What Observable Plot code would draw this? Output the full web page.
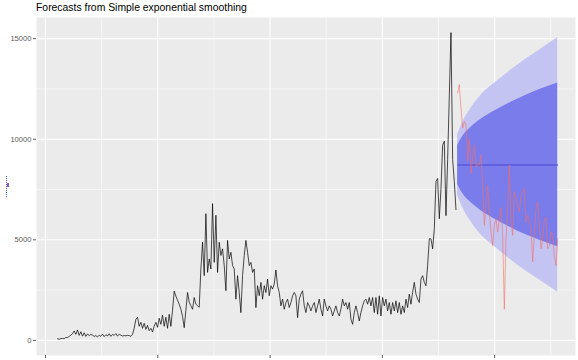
<!DOCTYPE html>
<html>
<head>
<meta charset="utf-8">
<script src="https://cdn.jsdelivr.net/npm/d3@7"></script>
<script src="https://cdn.jsdelivr.net/npm/@observablehq/plot@0.6"></script>
<style>
  html, body { margin: 0; padding: 0; background: #ffffff; overflow: hidden; }
  #wrap { position: relative; width: 578px; height: 360px; font-family: "Liberation Sans", Arial, sans-serif; }
  #title { position: absolute; left: 36px; top: 2px; font-size: 10.4px; color: #000; white-space: nowrap; line-height: 12px; }
  #chart { position: absolute; left: 0; top: 0; }
  .legfrag1 { position: absolute; left: 6px; top: 176px; height: 21px; border-left: 1px dotted #3b63d6; }
  .legfrag2 { position: absolute; left: 7px; top: 183px; width: 1.5px; height: 4px; background: #8b5fae; }
</style>
</head>
<body>
<div id="wrap">
  <div id="chart"></div>
  <div id="title">Forecasts from Simple exponential smoothing</div>
  <div class="legfrag1"></div>
  <div class="legfrag2"></div>
</div>
<script>
// ---- time base ----
const obsStart = 2014.107;
const obsStep = 1 / 67.35;

// ---- observed (training) series ----
const obsValues = [
  80, 60, 90, 100, 80, 150, 140, 200, 260, 330, 470, 300, 520, 250, 430, 210, 380, 200, 320, 240,
  300, 260, 200, 240, 170, 260, 200, 310, 190, 280, 220, 330, 200, 300, 250, 340, 220, 300, 260, 220,
  240, 230, 250, 240, 200, 300, 600,
  1050, 1150, 700, 900, 600, 850, 550, 750, 480, 600, 420, 700, 900, 650, 1100, 800, 1250, 700, 1150, 600,
  1300, 700, 1500, 2450,
  2200, 2000, 1800, 1550, 1200, 630, 1500, 2380, 1900, 1720, 1550, 2130, 1800, 1720, 1650,
  3550, 4880, 3220, 6300, 3380, 4050, 3550, 6800, 3880, 6220, 3380, 4880, 4220, 4550, 3720, 2470, 4970, 4050, 4380, 3720,
  3550, 2050, 3220, 2380, 1380, 3220, 4220, 4970, 4380, 3720, 3880, 3380, 3550, 1630, 2720, 2220, 2880, 2050, 2720, 2380,
  3050, 2220, 2720, 2550, 2800,
  3500, 2717, 2383, 1717, 2050, 1550, 1883, 2050, 1633, 1883,
  2217, 2383, 2217, 1133, 2050, 2300, 2467, 1717, 1383, 1883,
  1717, 1467, 1717, 1883, 1383, 1717, 2050, 1550, 1217, 2050,
  1717, 1467, 1717, 1550, 1217, 1467, 1717, 1383, 1217, 1550,
  2050, 1717, 1883, 1550, 1883, 1050, 800, 1383, 1717, 1383,
  967, 1383, 1717, 1967, 2050, 1800, 2133, 1717, 2133, 1383,
  2133, 1300, 2217, 1217, 2133, 1717, 2050, 1467, 1883, 1300,
  1883, 1467, 1967, 1383, 1883, 1300, 1717, 1383, 2050, 1633,
  2300, 1800, 2383, 2883, 2300, 2050, 1883, 3050, 3217, 2883,
  2717, 3717, 5050,
  5050, 4550, 5550, 7900, 8050, 6050, 7550, 9700, 9900, 6200, 9000, 12150, 15300, 9000, 7900, 6500
];

// ---- actual (test) series shown in red ----
const testValues = [
  12300, 12717, 11550, 10550, 10883, 10717, 8900, 10000, 8300, 9050,
  9717, 8600, 8800, 8717, 9217, 7717, 5717, 6717, 7700, 6383,
  5383, 4717, 5717, 6050, 5383, 6050, 6600, 5217, 1550, 5050,
  6550, 8717, 6050, 5217, 7383, 7050, 6700, 6383, 7217, 7383,
  7550, 5883, 6217, 5883, 5550, 3900, 5300, 6550, 6883, 5700,
  4550, 5050, 6050, 6100, 4550, 4717, 5383, 5217, 4200, 3717,
  5050
];

// ---- forecast (point + prediction intervals), read at a few horizons ----
const fcHorizon = [0, 3, 8, 14, 23, 32, 41, 50, 60];
const fcMean = 8720;
const fcLo95 = [7200, 6600, 5900, 5250, 4600, 4000, 3450, 2950, 2400];
const fcLo80 = [7750, 7300, 6850, 6450, 6000, 5600, 5250, 4950, 4650];
const fcHi80 = [9690, 10140, 10590, 10990, 11440, 11840, 12190, 12490, 12790];
const fcHi95 = [10240, 10840, 11540, 12190, 12840, 13440, 13990, 14490, 15040];

// ---- axes ----
const xMajor = [2014, 2015, 2016, 2017, 2018];
const xMinor = [2014.5, 2015.5, 2016.5, 2017.5, 2018.5];
const yMajor = [0, 5000, 10000, 15000];
const yMinor = [2500, 7500, 12500];

// ---- build tables ----
const obs = obsValues.map((v, i) => ({t: obsStart + i * obsStep, v}));
const nObs = obsValues.length;
const test = testValues.map((v, i) => ({t: obsStart + (nObs + i) * obsStep, v}));
const fc = fcHorizon.map((h, i) => ({
  t: obsStart + (nObs + h) * obsStep,
  mean: fcMean, lo95: fcLo95[i], lo80: fcLo80[i], hi80: fcHi80[i], hi95: fcHi95[i]
}));

const chart = Plot.plot({
  width: 578,
  height: 360,
  marginTop: 17,
  marginBottom: 5,
  marginLeft: 36,
  marginRight: 3,
  style: {background: "transparent", fontFamily: "'Liberation Sans', Arial, sans-serif", overflow: "hidden"},
  x: {domain: [2013.92, 2018.72], label: null},
  y: {domain: [-750, 16050], label: null},
  marks: [
    Plot.frame({fill: "#EBEBEB", stroke: null}),
    Plot.ruleY(yMinor, {stroke: "#ffffff", strokeWidth: 0.55}),
    Plot.ruleX(xMinor, {stroke: "#ffffff", strokeWidth: 0.55}),
    Plot.ruleY(yMajor, {stroke: "#ffffff", strokeWidth: 1.1}),
    Plot.ruleX(xMajor, {stroke: "#ffffff", strokeWidth: 1.1}),
    Plot.areaY(fc, {x: "t", y1: "lo95", y2: "hi95", fill: "#C3C4F2", curve: "monotone-x"}),
    Plot.areaY(fc, {x: "t", y1: "lo80", y2: "hi80", fill: "#7B7CEB", curve: "monotone-x"}),
    Plot.lineY(fc, {x: "t", y: "mean", stroke: "#4646D6", strokeWidth: 1}),
    Plot.lineY(obs, {x: "t", y: "v", stroke: "#000000", strokeWidth: 0.7}),
    Plot.lineY(test, {x: "t", y: "v", stroke: "#F46E68", strokeWidth: 0.7, strokeOpacity: 0.85}),
    Plot.axisY({ticks: yMajor, tickSize: 3, tickPadding: 2, fontSize: 7.6, color: "#5a5a5a", label: null, tickFormat: d => String(d)}),
    Plot.axisX({ticks: xMajor, tickSize: 3, color: "#5a5a5a", label: null, tickFormat: () => ""})
  ]
});
document.getElementById("chart").appendChild(chart);
</script>
</body>
</html>
